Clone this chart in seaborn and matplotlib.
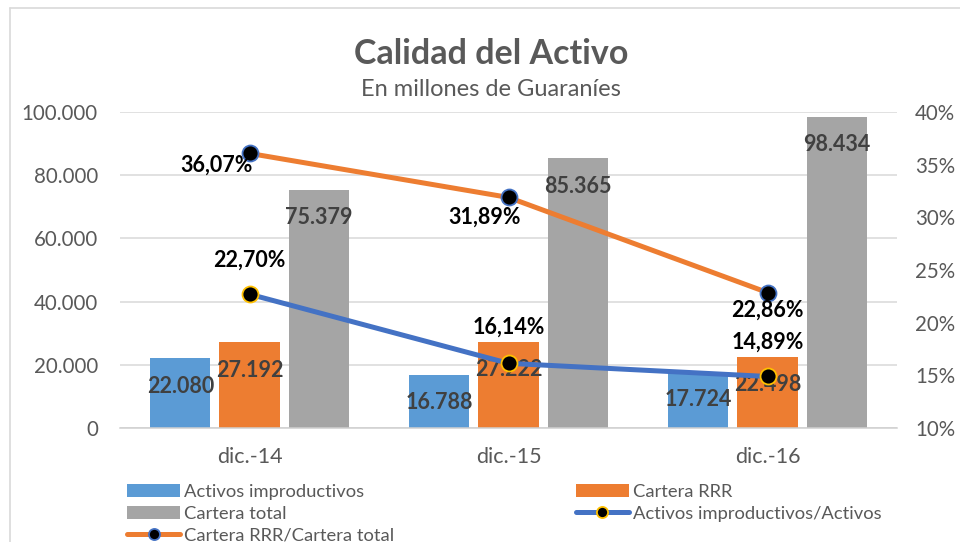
import numpy as np
import pandas as pd
import matplotlib
matplotlib.use("Agg")
import matplotlib.pyplot as plt
import seaborn as sns
from matplotlib.patches import Patch
from matplotlib.lines import Line2D
from matplotlib.ticker import FuncFormatter, FixedLocator

# ---------------- data ----------------
categories = ["dic.-14", "dic.-15", "dic.-16"]
bar_series = ["Activos improductivos", "Cartera RRR", "Cartera total"]
activos_improductivos = [22080, 16788, 17724]
cartera_rrr = [27192, 27222, 22498]
cartera_total = [75379, 85365, 98434]
line_series = ["Activos improductivos/Activos", "Cartera RRR/Cartera total"]
ratio_ai_activos = [22.70, 16.14, 14.89]
ratio_rrr_total = [36.07, 31.89, 22.86]
left_ticks = [0, 20000, 40000, 60000, 80000, 100000]
right_ticks = [10, 15, 20, 25, 30, 35, 40]
title = "Calidad del Activo"
subtitle = "En millones de Guaraníes"

# ---------------- style ----------------
BLUE_BAR = "#5B9BD5"
ORANGE = "#ED7D31"
GRAY_BAR = "#A5A5A5"
BLUE_LINE = "#4472C4"
GOLD = "#FFC000"
TXT = "#595959"
GRID = "#D9D9D9"

sns.set_theme(style="white")
plt.rcParams["font.family"] = ["Lato", "DejaVu Sans"]

df = pd.DataFrame({
    "cat": categories * 3,
    "serie": np.repeat(bar_series, len(categories)),
    "valor": activos_improductivos + cartera_rrr + cartera_total,
})

fig = plt.figure(figsize=(9.6, 5.42), dpi=100)
ax = fig.add_axes([120 / 960, 1 - 428 / 542, (897 - 120) / 960, (428 - 112) / 542])

sns.barplot(data=df, x="cat", y="valor", hue="serie", hue_order=bar_series,
            order=categories, palette=[BLUE_BAR, ORANGE, GRAY_BAR],
            width=0.8, gap=0.13, saturation=1, errorbar=None,
            linewidth=0, legend=False, ax=ax)

ax.set_xlim(-0.5, len(categories) - 0.5)
ax.set_ylim(left_ticks[0], left_ticks[-1])
ax.yaxis.set_major_locator(FixedLocator(left_ticks))
ax.yaxis.set_major_formatter(FuncFormatter(lambda v, p: f"{v:,.0f}".replace(",", ".")))
ax.set_xlabel("")
ax.set_ylabel("")
ax.grid(axis="y", color=GRID, linewidth=1.1)
ax.grid(axis="x", visible=False)
ax.set_axisbelow(True)
for s in ["top", "left", "right"]:
    ax.spines[s].set_visible(False)
ax.spines["bottom"].set_color("#D0D0D0")
ax.spines["bottom"].set_linewidth(1.1)
ax.tick_params(axis="y", length=0, pad=16, labelsize=14.8, labelcolor=TXT)
ax.tick_params(axis="x", which="major", length=0, pad=14, labelsize=15.5, labelcolor=TXT)
ax.set_xticks(np.arange(-0.5, len(categories)), minor=True)
ax.tick_params(axis="x", which="minor", length=7, width=1.1, color="#D0D0D0", direction="out")

# bar value labels (inside end)
for cont in ax.containers:
    for bar in cont:
        h = bar.get_height()
        ax.annotate(f"{h:,.0f}".replace(",", "."),
                    xy=(bar.get_x() + bar.get_width() / 2, h),
                    xytext=(0, -28), textcoords="offset pixels",
                    ha="center", va="center", fontsize=15.5,
                    fontweight="bold", color="#404040")

# ---------------- lines on secondary axis ----------------
ax2 = ax.twinx()
xpos = np.arange(len(categories))
sns.lineplot(x=xpos, y=ratio_ai_activos, ax=ax2, color=BLUE_LINE, linewidth=3.6,
             marker="o", markersize=11.5, markerfacecolor="black",
             markeredgecolor=GOLD, markeredgewidth=1.3)
sns.lineplot(x=xpos, y=ratio_rrr_total, ax=ax2, color=ORANGE, linewidth=3.6,
             marker="o", markersize=11.5, markerfacecolor="black",
             markeredgecolor=BLUE_LINE, markeredgewidth=1.3)
ax2.set_ylim(right_ticks[0], right_ticks[-1])
ax2.yaxis.set_major_locator(FixedLocator(right_ticks))
ax2.yaxis.set_major_formatter(FuncFormatter(lambda v, p: f"{v:.0f}%"))
ax2.tick_params(axis="y", length=0, pad=13, labelsize=14.8, labelcolor=TXT)
ax2.set_ylabel("")
ax2.grid(False)
for s in ax2.spines.values():
    s.set_visible(False)
ax2.set_xlim(-0.5, len(categories) - 0.5)

ai_offsets = [(0, 34), (0, 36), (0, 34)]
rrr_offsets = [(-33, -12), (-24, -20), (0, -18)]
for x, v, off in zip(xpos, ratio_ai_activos, ai_offsets):
    ax2.annotate(f"{v:.2f}%".replace(".", ","), xy=(x, v), xytext=off,
                 textcoords="offset pixels", ha="center", va="center",
                 fontsize=15.5, fontweight="bold", color="black")
for x, v, off in zip(xpos, ratio_rrr_total, rrr_offsets):
    ax2.annotate(f"{v:.2f}%".replace(".", ","), xy=(x, v), xytext=off,
                 textcoords="offset pixels", ha="center", va="center",
                 fontsize=15.5, fontweight="bold", color="black")

# ---------------- titles ----------------
fig.text(491 / 960, 1 - 54 / 542, title, ha="center", va="center",
         fontsize=24.5, fontweight="bold", color=TXT)
fig.text(491 / 960, 1 - 89 / 542, subtitle, ha="center", va="center",
         fontsize=17, color=TXT)

# ---------------- legend ----------------
h_ai = Patch(facecolor=BLUE_BAR, edgecolor="none")
h_rrr = Patch(facecolor=ORANGE, edgecolor="none")
h_ct = Patch(facecolor=GRAY_BAR, edgecolor="none")
h_l1 = Line2D([], [], color=BLUE_LINE, lw=3.6, marker="o", markersize=8,
              markerfacecolor="black", markeredgecolor=GOLD, markeredgewidth=1.3)
h_l2 = Line2D([], [], color=ORANGE, lw=3.6, marker="o", markersize=8,
              markerfacecolor="black", markeredgecolor=BLUE_LINE, markeredgewidth=1.3)
handles = [h_ai, h_ct, h_l2, h_rrr, h_l1]
labels = [bar_series[0], bar_series[2], line_series[1], bar_series[1], line_series[0]]
leg = fig.legend(handles, labels, loc="upper left",
                 bbox_to_anchor=(127 / 960, 1 - 484 / 542), ncol=2,
                 frameon=False, fontsize=13.2, handlelength=2.9, handleheight=0.75,
                 handletextpad=0.22, columnspacing=9.9, labelspacing=0.3,
                 borderpad=0, borderaxespad=0, numpoints=1)
for t in leg.get_texts():
    t.set_color(TXT)

# chart border (Excel chart area)
fig.add_artist(Line2D([10 / 960, 10 / 960], [0, 1 - 8 / 542], transform=fig.transFigure,
                      color=GRID, lw=1.2))
fig.add_artist(Line2D([10 / 960, 1], [1 - 8 / 542, 1 - 8 / 542], transform=fig.transFigure,
                      color=GRID, lw=1.2))

fig.savefig("out.png", dpi=100)
